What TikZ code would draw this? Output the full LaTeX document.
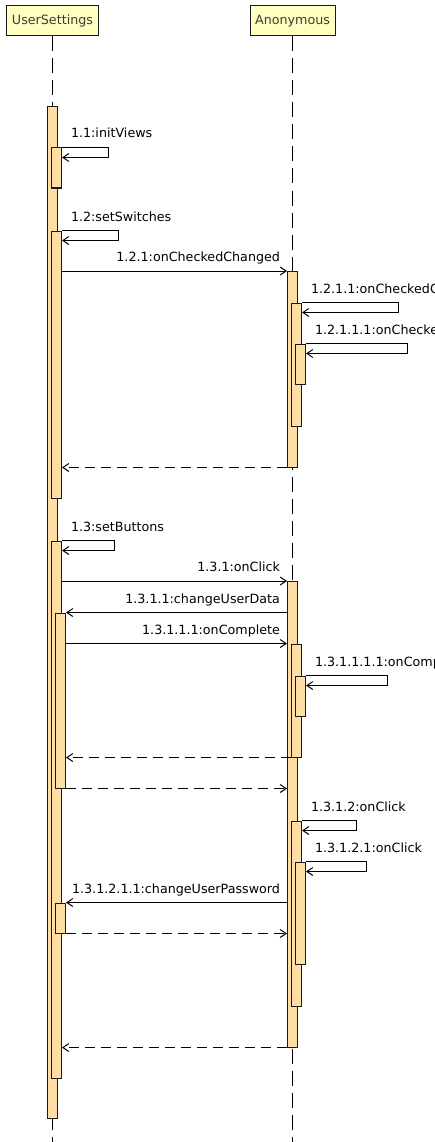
\documentclass[tikz,border=0pt]{standalone}
\usepackage{fontspec}
\setmainfont{DejaVu Sans}
\usetikzlibrary{arrows.meta,positioning}
\definecolor{headfill}{RGB}{255,255,192}
\definecolor{headtext}{RGB}{60,60,60}
\definecolor{barfill}{RGB}{255,222,165}
\tikzset{
 head/.style={rectangle,draw=black!90,fill=headfill,line width=1pt,minimum height=30pt,inner sep=0pt,text=headtext,font=\fontsize{12.7}{15}\selectfont},
 lifeline/.style={draw=black,line width=1pt,dash pattern=on 15pt off 7pt},
 bar/.style={rectangle,draw=black!90,fill=barfill,line width=1pt,minimum width=10pt,inner sep=0pt,anchor=north},
 msg/.style={-{Straight Barb[length=6pt,width=8pt]},line width=1pt,draw=black},
 reply/.style={msg,dash pattern=on 10pt off 6pt},
 lbl/.style={inner sep=0pt,font=\fontsize{12.7}{15}\selectfont}}
\begin{document}
\begin{tikzpicture}[x=1pt,y=-1pt]
\useasboundingbox[fill=white] (0,0) rectangle (435,1142);
\clip (0,0) rectangle (435,1142);
\node[head,minimum width=91.5pt] (ush) at (52.5,21) {UserSettings};
\node[head,minimum width=85pt] (anh) at (292.5,21) {Anonymous};
\coordinate (usend) at (52.5,1142); \coordinate (anend) at (292.5,1142);
\draw[lifeline] (ush.south) -- (usend); \draw[lifeline] (anh.south) -- (anend);
\node[bar,minimum height=1011.5pt] (us) at (52.5,106.5) {};
\node[bar,minimum height=40pt] (us11) at (56.5,147.5) {};
\node[bar,minimum height=267pt] (us12) at (56.5,230.5) {};
\node[bar,minimum height=537pt] (us13) at (56.5,540.5) {};
\node[bar,minimum height=175pt] (us1311) at (60.5,612.5) {};
\node[bar,minimum height=30pt] (us131211) at (60.5,902.5) {};
\node[bar,minimum height=195.5pt] (an121) at (292.5,271) {};
\node[bar,minimum height=123pt] (an1211) at (296.5,302.5) {};
\node[bar,minimum height=40pt] (an12111) at (300.5,343.5) {};
\node[bar,minimum height=465.5pt] (an131) at (292.5,581) {};
\node[bar,minimum height=113pt] (an13111) at (296.5,643.5) {};
\node[bar,minimum height=40pt] (an131111) at (300.5,675.5) {};
\node[bar,minimum height=185pt] (an1312) at (296.5,820.5) {};
\node[bar,minimum height=102pt] (an13121) at (300.5,861.5) {};
\draw[msg] (us11.north east) node[lbl,anchor=base west,xshift=8.5pt,yshift=9.5pt]{1.1:initViews} -- ++(46,0) -- ++(0,10) -- ([yshift=-10pt]us11.north east);
\draw[msg] (us12.north east) node[lbl,anchor=base west,xshift=8.5pt,yshift=9.5pt]{1.2:setSwitches} -- ++(56,0) -- ++(0,10) -- ([yshift=-10pt]us12.north east);
\draw[msg] (us12.east |- an121.north) -- (an121.north west) node[lbl,anchor=base east,xshift=-6.5pt,yshift=9.5pt]{1.2.1:onCheckedChanged};
\draw[msg] (an1211.north east) node[lbl,anchor=base west,xshift=8.5pt,yshift=9.5pt]{1.2.1.1:onCheckedChanged} -- ++(96,0) -- ++(0,10) -- ([yshift=-10pt]an1211.north east);
\draw[msg] (an12111.north east) node[lbl,anchor=base west,xshift=8.5pt,yshift=9.5pt]{1.2.1.1.1:onCheckedChanged} -- ++(101,0) -- ++(0,10) -- ([yshift=-10pt]an12111.north east);
\draw[reply] (an121.south west) -- (an121.south west -| us12.east);
\draw[msg] (us13.north east) node[lbl,anchor=base west,xshift=8.5pt,yshift=9.5pt]{1.3:setButtons} -- ++(52,0) -- ++(0,10) -- ([yshift=-10pt]us13.north east);
\draw[msg] (us13.east |- an131.north) -- (an131.north west) node[lbl,anchor=base east,xshift=-6.5pt,yshift=9.5pt]{1.3.1:onClick};
\draw[msg] (an131.west |- us1311.north) node[lbl,anchor=base east,xshift=-6.5pt,yshift=9.5pt]{1.3.1.1:changeUserData} -- (us1311.north east);
\draw[msg] (us1311.east |- an13111.north) -- (an131.west |- an13111.north) node[lbl,anchor=base east,xshift=-6.5pt,yshift=9.5pt]{1.3.1.1.1:onComplete};
\draw[msg] (an131111.north east) node[lbl,anchor=base west,xshift=8.5pt,yshift=9.5pt]{1.3.1.1.1.1:onComplete} -- ++(81,0) -- ++(0,10) -- ([yshift=-10pt]an131111.north east);
\draw[reply] (an13111.south west) -- (an13111.south west -| us1311.east);
\draw[reply] (us1311.south east) -- (us1311.south east -| an131.west);
\draw[msg] (an1312.north east) node[lbl,anchor=base west,xshift=8.5pt,yshift=9.5pt]{1.3.1.2:onClick} -- ++(54,0) -- ++(0,10) -- ([yshift=-10pt]an1312.north east);
\draw[msg] (an13121.north east) node[lbl,anchor=base west,xshift=8.5pt,yshift=9.5pt]{1.3.1.2.1:onClick} -- ++(60,0) -- ++(0,10) -- ([yshift=-10pt]an13121.north east);
\draw[msg] (an131.west |- us131211.north) node[lbl,anchor=base east,xshift=-6.5pt,yshift=9.5pt]{1.3.1.2.1.1:changeUserPassword} -- (us131211.north east);
\draw[reply] (us131211.south east) -- (us131211.south east -| an131.west);
\draw[reply] (an131.south west) -- (an131.south west -| us13.east);
\end{tikzpicture}
\end{document}
